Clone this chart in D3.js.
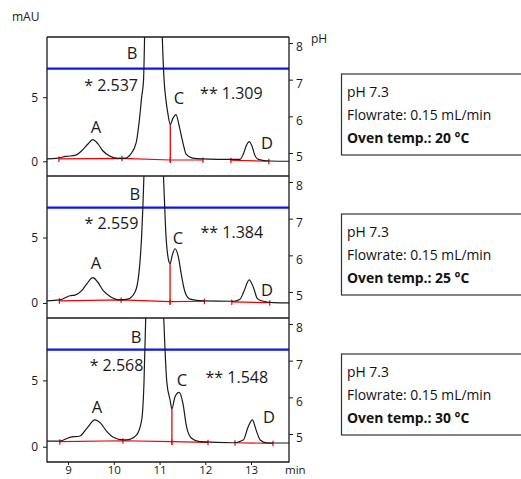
<!DOCTYPE html>
<html>
<head>
<meta charset="utf-8">
<script src="https://cdn.jsdelivr.net/npm/d3@7"></script>
<style>
  html, body { margin: 0; padding: 0; background: #fff; }
  svg { display: block; font-family: "Open Sans", "Noto Sans", sans-serif; }
</style>
</head>
<body>
<svg id="chart" width="521" height="479"></svg>
<script>
// ---- Data -----------------------------------------------------------------
// Oven temperatures (°C), one chromatogram each
const ovenTemps = [20, 25, 30];
const mobilePhasePH = 7.3;
const flowRate = 0.15;

// Retention time (min) and UV signal (mAU); peak B runs far off scale
const time20   = [8.54, 8.74, 8.96, 9.17, 9.32, 9.43, 9.54, 9.65, 9.76, 9.90,
                  10.08, 10.23, 10.37, 10.49, 10.56, 10.61, 10.65, 10.68, 10.74, 10.85,
                  10.96, 11.04, 11.10, 11.14, 11.18, 11.235, 11.29, 11.36, 11.43, 11.51,
                  11.58, 11.72, 11.94, 12.56, 12.76, 12.83, 12.90, 12.96, 13.02, 13.08,
                  13.16, 13.41, 13.83];
const signal20 = [0.18, 0.23, 0.38, 0.48, 0.89, 1.33, 1.69, 1.38, 0.82, 0.43,
                  0.23, 0.23, 0.56, 1.46, 3.25, 5.05, 6.33, 11, 25, 38,
                  25, 12, 6.3, 4.79, 3.77, 2.87, 3.33, 3.64, 2.74, 1.46,
                  0.56, 0.25, 0.18, 0.14, 0.15, 0.55, 1.25, 1.54, 1.2, 0.5,
                  0.15, 0.02, 0.0];

const time25   = [8.54, 8.82, 9.04, 9.15, 9.30, 9.41, 9.54, 9.64, 9.77, 9.92,
                  10.14, 10.30, 10.46, 10.55, 10.61, 10.66, 10.72, 10.85, 10.98, 11.04,
                  11.10, 11.14, 11.19, 11.23, 11.28, 11.34, 11.41, 11.48, 11.56, 11.67,
                  11.96, 12.61, 12.76, 12.85, 12.96, 13.05, 13.14, 13.27, 13.49, 13.83];
const signal25 = [0.16, 0.23, 0.55, 0.6, 0.94, 1.46, 1.93, 1.64, 0.94, 0.5,
                  0.23, 0.29, 0.8, 2.3, 5.2, 9.9, 20, 38, 22, 14,
                  8.5, 5.2, 3.4, 3.0, 3.67, 4.14, 3.54, 2.1, 0.8, 0.29,
                  0.16, 0.13, 0.29, 0.94, 1.77, 1.2, 0.33, 0.13, 0.02, 0.0];

const time30   = [8.54, 8.82, 9.04, 9.26, 9.41, 9.59, 9.70, 9.85, 9.99, 10.21,
                  10.35, 10.50, 10.61, 10.66, 10.70, 10.76, 10.88, 11.00, 11.06, 11.10,
                  11.16, 11.23, 11.27, 11.34, 11.43, 11.51, 11.59, 11.70, 11.88, 12.61,
                  12.83, 12.94, 13.03, 13.11, 13.20, 13.34, 13.83];
const signal30 = [0.43, 0.43, 0.71, 0.81, 1.39, 2.02, 1.82, 1.14, 0.71, 0.51,
                  0.56, 0.89, 2.02, 4.8, 10, 22, 38, 24, 13, 9.0,
                  4.83, 3.54, 2.86, 3.79, 4.09, 3.29, 1.52, 0.64, 0.38, 0.3,
                  0.51, 1.52, 2.02, 1.27, 0.51, 0.3, 0.28];

// Integration baselines [time, mAU]: A–B–C group and peak D
const baseline20 = [[8.80, 0.18], [10.18, 0.23], [11.235, 0.10], [11.95, 0.10]];
const baseline25 = [[8.81, 0.16], [10.16, 0.23], [11.23, 0.10], [11.98, 0.13]];
const baseline30 = [[8.82, 0.38], [10.20, 0.45], [11.27, 0.38], [12.06, 0.33]];
const baselineD20 = [[12.56, 0.08], [13.39, 0.00]];
const baselineD25 = [[12.58, 0.08], [13.41, 0.02]];
const baselineD30 = [[12.65, 0.30], [13.48, 0.26]];

// Perpendicular drop separating B and C
const dropTimes = [11.235, 11.23, 11.27];

// Peak ratios printed on each chromatogram
const ratioB = ["2.537", "2.559", "2.568"];
const ratioC = ["1.309", "1.384", "1.548"];

const peakNames = ["A", "B", "C", "D"];
const signalTicks = [0, 5];
const phTicks = [5, 6, 7, 8];
const timeTicks = [9, 10, 11, 12, 13];

// ---- Layout ---------------------------------------------------------------
const traces = [
  { t: time20, s: signal20, base: baseline20, baseD: baselineD20 },
  { t: time25, s: signal25, base: baseline25, baseD: baselineD25 },
  { t: time30, s: signal30, base: baseline30, baseD: baselineD30 }
];

// label anchors in (min, mAU) per panel
const labelAnchors = [
  { A: [9.61, 2.68], B: [10.40, 8.45], C: [11.425, 4.94], D: [13.35, 1.43], rB: [9.94, 5.96], rC: [12.57, 5.33] },
  { A: [9.61, 3.06], B: [10.46, 8.33], C: [11.40, 4.95],  D: [13.35, 0.99], rB: [9.95, 6.11], rC: [12.58, 5.42] },
  { A: [9.63, 2.99], B: [10.49, 8.27], C: [11.49, 5.03],  D: [13.39, 2.24], rB: [10.06, 6.16], rC: [12.69, 5.25] }
];

const left = 47, right = 289;
const panelTop = [37, 176, 318];
const panelBottom = [176, 318, 462];
const boxTop = [74, 214, 354];

const ink = "#1a1a1a";
const red = "#f20000";
const blue = "#0b16f2";
const intFmt = d3.format("d");

const svg = d3.select("#chart");
svg.append("rect").attr("width", 521).attr("height", 479).attr("fill", "#fff");

const x = d3.scaleLinear().domain([8.54, 13.83]).range([left, right]);

ovenTemps.forEach((temp, i) => {
  const top = panelTop[i], bot = panelBottom[i];
  const y = d3.scaleLinear().domain([-1.15, 9.7]).range([bot, top]);
  const ph = d3.scaleLinear().domain([5, 8]).range([top + 116, top + 6]);
  const tr = traces[i];
  const pts = tr.t.map((t, k) => [t, tr.s[k]]);

  const clipId = "clip" + i;
  svg.append("clipPath").attr("id", clipId)
    .append("rect").attr("x", left).attr("y", top)
    .attr("width", right - left).attr("height", bot - top);

  const g = svg.append("g").attr("clip-path", `url(#${clipId})`);

  // mobile phase pH trace
  g.append("line")
    .attr("x1", left).attr("x2", right)
    .attr("y1", ph(mobilePhasePH)).attr("y2", ph(mobilePhasePH))
    .attr("stroke", blue).attr("stroke-width", 2.2);

  // integration baselines with end marks
  const baseLine = d3.line().x(d => x(d[0])).y(d => y(d[1]));
  [tr.base, tr.baseD].forEach(seg => {
    g.append("path").attr("d", baseLine(seg))
      .attr("fill", "none").attr("stroke", red).attr("stroke-width", 1.2);
    g.selectAll(null).data(seg).enter().append("line")
      .attr("x1", d => x(d[0])).attr("x2", d => x(d[0]))
      .attr("y1", d => y(d[1]) - 2.5).attr("y2", d => y(d[1]) + 3)
      .attr("stroke", red).attr("stroke-width", 1.2);
  });

  // drop line between B and C
  const dropT = dropTimes[i];
  const dropBase = tr.base.find(d => d[0] === dropT);
  const dropPeak = pts.find(d => d[0] === dropT);
  g.append("line")
    .attr("x1", x(dropT)).attr("x2", x(dropT))
    .attr("y1", y(dropBase[1]) + 3).attr("y2", y(dropPeak[1]))
    .attr("stroke", red).attr("stroke-width", 1.3);

  // chromatogram
  const trace = d3.line().x(d => x(d[0])).y(d => y(d[1])).curve(d3.curveMonotoneX);
  g.append("path").attr("d", trace(pts))
    .attr("fill", "none").attr("stroke", ink).attr("stroke-width", 1.2);

  // peak labels and ratios
  const la = labelAnchors[i];
  peakNames.forEach(n => {
    svg.append("text")
      .attr("x", x(la[n][0])).attr("y", y(la[n][1]))
      .attr("dy", "0.36em").attr("text-anchor", "middle")
      .attr("font-size", 16.5).attr("fill", ink).text(n);
  });
  svg.append("text")
    .attr("x", x(la.rB[0])).attr("y", y(la.rB[1]))
    .attr("dy", "0.36em").attr("text-anchor", "middle")
    .attr("font-size", 16).attr("fill", ink).text("* " + ratioB[i]);
  svg.append("text")
    .attr("x", x(la.rC[0])).attr("y", y(la.rC[1]))
    .attr("dy", "0.36em").attr("text-anchor", "middle")
    .attr("font-size", 16).attr("fill", ink).text("** " + ratioC[i]);

  // left signal axis
  const ax = svg.append("g").attr("transform", `translate(${left},0)`)
    .call(d3.axisLeft(y).tickValues(signalTicks).tickFormat(intFmt).tickSize(4).tickPadding(5));
  ax.select(".domain").remove();
  ax.attr("font-family", null).attr("font-size", 12);
  ax.selectAll("line").attr("stroke", ink);
  ax.selectAll("text").attr("fill", ink);

  // right pH axis
  const ay = svg.append("g").attr("transform", `translate(${right},0)`)
    .call(d3.axisRight(ph).tickValues(phTicks).tickFormat(intFmt).tickSize(4).tickPadding(3));
  ay.select(".domain").remove();
  ay.attr("font-family", null).attr("font-size", 12);
  ay.selectAll("line").attr("stroke", ink);
  ay.selectAll("text").attr("fill", ink).attr("dy", "0.65em");

  // panel separator / top frame
  svg.append("line")
    .attr("x1", left).attr("x2", right).attr("y1", top).attr("y2", top)
    .attr("stroke", ink).attr("stroke-width", i === 0 ? 1.3 : 1.6);

  // condition box
  const bt = boxTop[i];
  svg.append("rect")
    .attr("x", 341.5).attr("y", bt).attr("width", 200).attr("height", 81)
    .attr("fill", "#fff").attr("stroke", "#333").attr("stroke-width", 1.2);
  const lines = [
    { txt: `pH ${mobilePhasePH}`, dy: 18, bold: false },
    { txt: `Flowrate: ${flowRate} mL/min`, dy: 40.5, bold: false },
    { txt: `Oven temp.: ${temp} °C`, dy: 63.5, bold: true }
  ];
  lines.forEach(l => {
    svg.append("text")
      .attr("x", 347).attr("y", bt + l.dy).attr("dy", "0.36em")
      .attr("font-size", 13.9).attr("font-weight", l.bold ? 700 : 400)
      .attr("fill", "#111").text(l.txt);
  });
});

// outer vertical axis lines
svg.append("line").attr("x1", left).attr("x2", left)
  .attr("y1", panelTop[0]).attr("y2", panelBottom[2] + 0.5)
  .attr("stroke", ink).attr("stroke-width", 1.3);
svg.append("line").attr("x1", right).attr("x2", right)
  .attr("y1", panelTop[0]).attr("y2", panelBottom[2] + 0.5)
  .attr("stroke", ink).attr("stroke-width", 1.3);

// time axis
const axX = svg.append("g").attr("transform", `translate(0,${panelBottom[2]})`)
  .call(d3.axisBottom(x).tickValues(timeTicks).tickFormat(intFmt).tickSize(3).tickPadding(1));
axX.select(".domain").remove();
axX.attr("font-family", null).attr("font-size", 11.5);
axX.selectAll("line").attr("stroke", ink);
axX.selectAll("text").attr("fill", ink);
svg.append("line").attr("x1", left).attr("x2", right)
  .attr("y1", panelBottom[2]).attr("y2", panelBottom[2])
  .attr("stroke", ink).attr("stroke-width", 1.3);

// unit labels
svg.append("text").attr("x", 12).attr("y", 17).attr("dy", "0.36em")
  .attr("font-size", 12).attr("fill", ink).text("mAU");
svg.append("text").attr("x", 311).attr("y", 39).attr("dy", "0.36em")
  .attr("font-size", 12).attr("fill", ink).text("pH");
svg.append("text").attr("x", 285).attr("y", 470).attr("dy", "0.36em")
  .attr("font-size", 11.5).attr("fill", ink).text("min");
</script>
</body>
</html>
